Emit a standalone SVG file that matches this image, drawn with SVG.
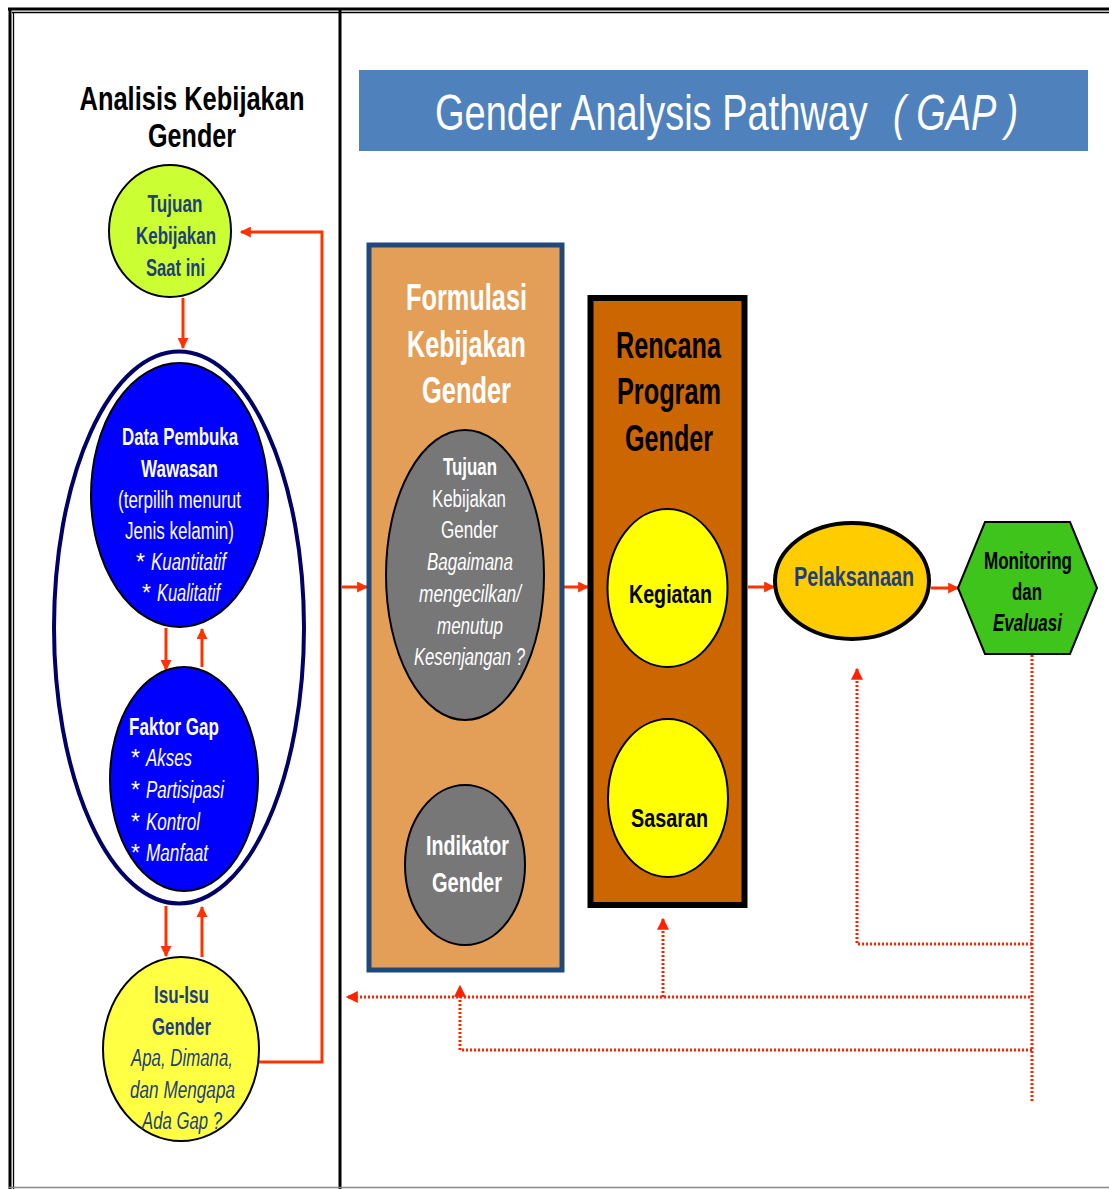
<svg xmlns="http://www.w3.org/2000/svg" width="1109" height="1189" viewBox="0 0 1109 1189">
<defs>
<style>
text{font-family:"Liberation Sans Narrow","Liberation Sans",Arial,sans-serif;text-anchor:middle}
.b{font-weight:bold}
.i{font-style:italic}
.s{text-anchor:start}
.navy{fill:#1f3f7a}
.wh{fill:#ffffff}
.bk{fill:#000000}
.arr{stroke:#ff3300;stroke-width:3;fill:none}
.dot{stroke:#ff2200;stroke-width:3;fill:none;stroke-dasharray:2 2}
</style>
<marker id="ah" viewBox="0 0 10 10" refX="9" refY="5" markerWidth="12" markerHeight="11" orient="auto" markerUnits="userSpaceOnUse"><path d="M0,0 L10,5 L0,10 z" fill="#ff3300"/></marker>
<marker id="ahd" viewBox="0 0 10 10" refX="9" refY="5" markerWidth="13" markerHeight="12" orient="auto" markerUnits="userSpaceOnUse"><path d="M0,0 L10,5 L0,10 z" fill="#ff2200"/></marker>
</defs>
<rect width="1109" height="1189" fill="#ffffff"/>
<g id="frame" stroke="#000" fill="none">
<line x1="8" y1="9" x2="1109" y2="9" stroke-width="3"/>
<line x1="12" y1="12.5" x2="1109" y2="12.5" stroke-width="1.3"/>
<line x1="10" y1="8" x2="10" y2="1189" stroke-width="3"/>
<line x1="13.5" y1="12" x2="13.5" y2="1189" stroke-width="1.3"/>
<line x1="340" y1="8" x2="340" y2="1189" stroke-width="3"/>
<line x1="8" y1="1187.5" x2="1109" y2="1187.5" stroke="#888" stroke-width="1.5"/>
</g>
<g id="title-left">
<text class="b bk" x="192" y="110" font-size="34" textLength="225" lengthAdjust="spacingAndGlyphs">Analisis Kebijakan</text>
<text class="b bk" x="192" y="147" font-size="34" textLength="88" lengthAdjust="spacingAndGlyphs">Gender</text>
</g>
<g id="banner">
<rect x="359" y="70" width="729" height="81" fill="#4f81bd"/>
<g transform="translate(435,130) scale(0.76,1)">
<text class="wh s" x="0" y="0" font-size="50">Gender Analysis Pathway<tspan class="i" dx="33">( GAP )</tspan></text>
</g>
</g>
<g id="connectors">
<path class="arr" d="M259,1062 H322 V232 H241" marker-end="url(#ah)"/>
<line class="arr" x1="183" y1="298" x2="183" y2="348" marker-end="url(#ah)"/>
<line class="arr" x1="166" y1="628" x2="166" y2="670" marker-end="url(#ah)"/>
<line class="arr" x1="202" y1="667" x2="202" y2="629" marker-end="url(#ah)"/>
<line class="arr" x1="166" y1="906" x2="166" y2="956" marker-end="url(#ah)"/>
<line class="arr" x1="202" y1="957" x2="202" y2="907" marker-end="url(#ah)"/>
<line class="arr" x1="342" y1="587" x2="367" y2="587" marker-end="url(#ah)"/>
<line class="arr" x1="564" y1="587" x2="588" y2="587" marker-end="url(#ah)"/>
<line class="arr" x1="748" y1="587" x2="774" y2="587" marker-end="url(#ah)"/>
<line class="arr" x1="931" y1="588" x2="958" y2="588" marker-end="url(#ah)"/>
<line class="arr" x1="460" y1="735" x2="460" y2="785" marker-end="url(#ah)"/>
<line class="arr" x1="672" y1="667" x2="672" y2="718" marker-end="url(#ah)"/>
<line class="dot" x1="1032" y1="655" x2="1032" y2="1103"/>
<path class="dot" d="M1032,944 H857 V669" marker-end="url(#ahd)"/>
<path class="dot" d="M1030,997 H347" marker-end="url(#ahd)"/>
<path class="dot" d="M663,997 V919" marker-end="url(#ahd)"/>
<path class="dot" d="M1032,1050 H460 V986" marker-end="url(#ahd)"/>
</g>
<g id="node-tujuan">
<ellipse cx="170" cy="231" rx="61" ry="66" fill="#ccff33" stroke="#000" stroke-width="2"/>
<text class="b navy" x="175" y="212" font-size="24" textLength="55" lengthAdjust="spacingAndGlyphs">Tujuan</text>
<text class="b navy" x="176" y="244" font-size="24" textLength="80" lengthAdjust="spacingAndGlyphs">Kebijakan</text>
<text class="b navy" x="175.5" y="276" font-size="24" textLength="59" lengthAdjust="spacingAndGlyphs">Saat ini</text>
</g>
<g id="node-outer-ellipse">
<ellipse cx="179" cy="627.5" rx="125" ry="276" fill="none" stroke="#000066" stroke-width="4"/>
</g>
<g id="node-data">
<ellipse cx="179.5" cy="495" rx="88.5" ry="132" fill="#0000ff" stroke="#000" stroke-width="2"/>
<text class="b wh" x="180" y="445" font-size="23" textLength="116" lengthAdjust="spacingAndGlyphs">Data Pembuka</text>
<text class="b wh" x="179.5" y="477" font-size="23" textLength="77" lengthAdjust="spacingAndGlyphs">Wawasan</text>
<text class="wh" x="179.5" y="508" font-size="23" textLength="123" lengthAdjust="spacingAndGlyphs">(terpilih menurut</text>
<text class="wh" x="179.5" y="539" font-size="23" textLength="109" lengthAdjust="spacingAndGlyphs">Jenis kelamin)</text>
<text class="wh s" x="136" y="570" font-size="23">*</text>
<text class="wh i s" x="151" y="570" font-size="23" textLength="75" lengthAdjust="spacingAndGlyphs">Kuantitatif</text>
<text class="wh s" x="142" y="601" font-size="23">*</text>
<text class="wh i s" x="157" y="601" font-size="23" textLength="63" lengthAdjust="spacingAndGlyphs">Kualitatif</text>
</g>
<g id="node-faktor">
<ellipse cx="184" cy="779" rx="74" ry="112" fill="#0000ff" stroke="#000" stroke-width="2"/>
<text class="b wh s" x="129" y="735" font-size="23" textLength="90" lengthAdjust="spacingAndGlyphs">Faktor Gap</text>
<text class="wh s" x="131" y="766" font-size="23">*</text>
<text class="wh i s" x="146" y="766" font-size="23" textLength="46" lengthAdjust="spacingAndGlyphs">Akses</text>
<text class="wh s" x="131" y="798" font-size="23">*</text>
<text class="wh i s" x="146" y="798" font-size="23" textLength="78" lengthAdjust="spacingAndGlyphs">Partisipasi</text>
<text class="wh s" x="131" y="830" font-size="23">*</text>
<text class="wh i s" x="146" y="830" font-size="23" textLength="54" lengthAdjust="spacingAndGlyphs">Kontrol</text>
<text class="wh s" x="131" y="861" font-size="23">*</text>
<text class="wh i s" x="146" y="861" font-size="23" textLength="62" lengthAdjust="spacingAndGlyphs">Manfaat</text>
</g>
<g id="node-isu">
<ellipse cx="181" cy="1049" rx="78" ry="92" fill="#ffff44" stroke="#000" stroke-width="2"/>
<text class="b navy" x="181.5" y="1003" font-size="23" textLength="55" lengthAdjust="spacingAndGlyphs">Isu-Isu</text>
<text class="b navy" x="181.5" y="1035" font-size="23" textLength="59" lengthAdjust="spacingAndGlyphs">Gender</text>
<text class="i navy" x="182" y="1066" font-size="23" textLength="102" lengthAdjust="spacingAndGlyphs">Apa, Dimana,</text>
<text class="i navy" x="182.5" y="1098" font-size="23" textLength="105" lengthAdjust="spacingAndGlyphs">dan Mengapa</text>
<text class="i navy" x="182" y="1129" font-size="23" textLength="80" lengthAdjust="spacingAndGlyphs">Ada Gap ?</text>
</g>
<g id="node-formulasi">
<rect x="369" y="245" width="193" height="725" fill="#e39f58" stroke="#1f497d" stroke-width="5"/>
<text class="b wh" x="466.5" y="310" font-size="36" textLength="121" lengthAdjust="spacingAndGlyphs">Formulasi</text>
<text class="b wh" x="466.5" y="357" font-size="36" textLength="119" lengthAdjust="spacingAndGlyphs">Kebijakan</text>
<text class="b wh" x="466.5" y="403" font-size="36" textLength="89" lengthAdjust="spacingAndGlyphs">Gender</text>
</g>
<g id="node-tujuan-kebijakan">
<ellipse cx="465" cy="575" rx="79" ry="145" fill="#777777" stroke="#000" stroke-width="2"/>
<text class="b wh" x="470" y="475" font-size="23" textLength="54" lengthAdjust="spacingAndGlyphs">Tujuan</text>
<text class="wh" x="469" y="507" font-size="23" textLength="74" lengthAdjust="spacingAndGlyphs">Kebijakan</text>
<text class="wh" x="469.5" y="538" font-size="23" textLength="57" lengthAdjust="spacingAndGlyphs">Gender</text>
<text class="i wh" x="470" y="570" font-size="23" textLength="86" lengthAdjust="spacingAndGlyphs">Bagaimana</text>
<text class="i wh" x="470" y="602" font-size="23" textLength="102" lengthAdjust="spacingAndGlyphs">mengecilkan/</text>
<text class="i wh" x="470" y="634" font-size="23" textLength="66" lengthAdjust="spacingAndGlyphs">menutup</text>
<text class="i wh" x="469.5" y="665" font-size="23" textLength="111" lengthAdjust="spacingAndGlyphs">Kesenjangan ?</text>
</g>
<g id="node-indikator">
<ellipse cx="465" cy="865" rx="60" ry="80" fill="#777777" stroke="#000" stroke-width="2"/>
<text class="b wh" x="467.5" y="855" font-size="27" textLength="83" lengthAdjust="spacingAndGlyphs">Indikator</text>
<text class="b wh" x="467" y="892" font-size="27" textLength="70" lengthAdjust="spacingAndGlyphs">Gender</text>
</g>
<g id="node-rencana">
<rect x="590.5" y="298" width="154" height="607" fill="#cc6600" stroke="#000" stroke-width="6"/>
<text class="b bk" x="668.5" y="358" font-size="36" textLength="105" lengthAdjust="spacingAndGlyphs">Rencana</text>
<text class="b bk" x="669" y="404" font-size="36" textLength="104" lengthAdjust="spacingAndGlyphs">Program</text>
<text class="b bk" x="669" y="451" font-size="36" textLength="88" lengthAdjust="spacingAndGlyphs">Gender</text>
</g>
<g id="node-kegiatan">
<ellipse cx="667.5" cy="588" rx="60" ry="79" fill="#ffff00" stroke="#000" stroke-width="2"/>
<text class="b bk" x="670.5" y="603" font-size="26" textLength="83" lengthAdjust="spacingAndGlyphs">Kegiatan</text>
</g>
<g id="node-sasaran">
<ellipse cx="668" cy="798" rx="60" ry="79" fill="#ffff00" stroke="#000" stroke-width="2"/>
<text class="b bk" x="669.5" y="827" font-size="26" textLength="77" lengthAdjust="spacingAndGlyphs">Sasaran</text>
</g>
<g id="node-pelaksanaan">
<ellipse cx="852" cy="581" rx="77" ry="58" fill="#ffcc00" stroke="#000" stroke-width="4"/>
<text class="b navy" x="854" y="586" font-size="27" textLength="120" lengthAdjust="spacingAndGlyphs">Pelaksanaan</text>
</g>
<g id="node-monitoring">
<polygon points="958,588 985,522 1070,522 1097,588 1070,654 985,654" fill="#3ec41b" stroke="#000" stroke-width="2"/>
<text class="b bk" x="1028" y="569" font-size="24" textLength="88" lengthAdjust="spacingAndGlyphs">Monitoring</text>
<text class="b bk" x="1027" y="600" font-size="24" textLength="30" lengthAdjust="spacingAndGlyphs">dan</text>
<text class="b i bk" x="1027.5" y="631" font-size="24" textLength="69" lengthAdjust="spacingAndGlyphs">Evaluasi</text>
</g>
</svg>
